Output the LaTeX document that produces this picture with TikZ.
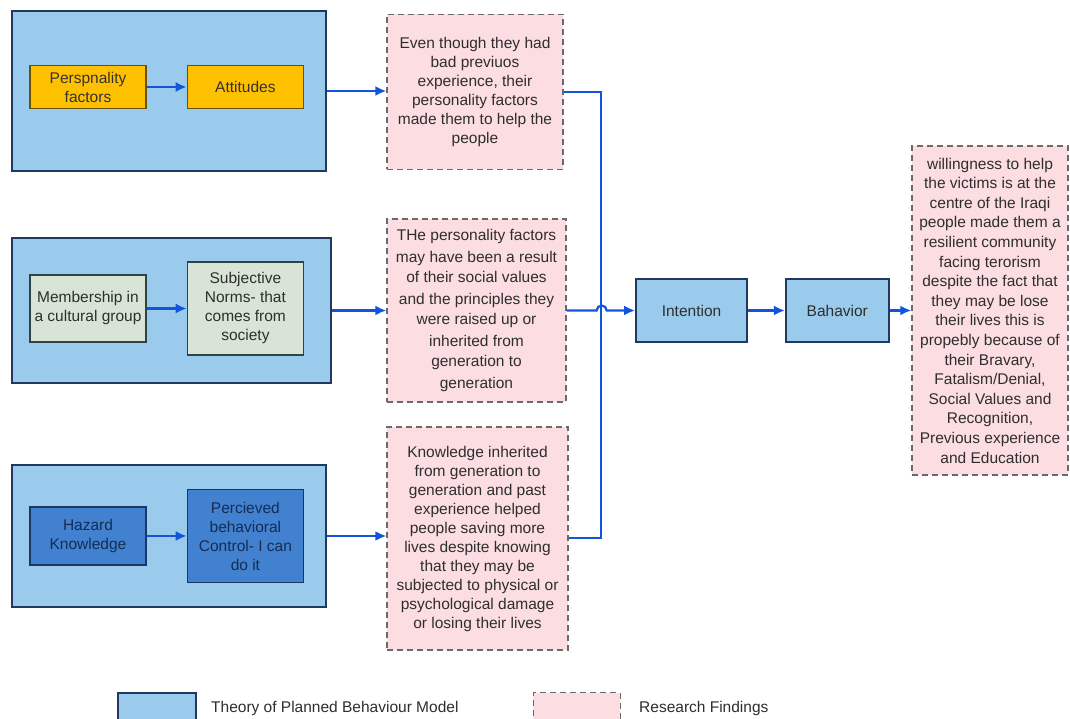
\documentclass[tikz,border=0pt]{standalone}
\usepackage{fontspec}
\setmainfont{Liberation Sans}
\usepackage{tikz}
\usetikzlibrary{arrows.meta,positioning}
\definecolor{tpbblue}{HTML}{9BCBEC}
\definecolor{tpbnavy}{HTML}{1F3A5E}
\definecolor{attorange}{HTML}{FFC000}
\definecolor{attborder}{HTML}{6B5200}
\definecolor{normgreen}{HTML}{D8E5D6}
\definecolor{normborder}{HTML}{2E4444}
\definecolor{ctrlblue}{HTML}{4181D0}
\definecolor{ctrlborder}{HTML}{1C3766}
\definecolor{findpink}{HTML}{FCDDE2}
\definecolor{findgray}{HTML}{6A6A6A}
\definecolor{linkblue}{HTML}{1254DA}
\definecolor{textgray}{HTML}{2E2E2E}

\begin{document}
\begin{tikzpicture}[x=1pt,y=1pt,
    every node/.style={font=\fontsize{15.5}{19}\selectfont,align=center,text=textgray,inner sep=2pt},
    tpb/.style={draw=tpbnavy,line width=2.2pt,fill=tpbblue},
    attbox/.style={draw=attborder,line width=1.4pt,fill=attorange,minimum width=116pt,text=black!80},
    normbox/.style={draw=normborder,line width=1.4pt,fill=normgreen,minimum width=116pt},
    ctrlbox/.style={draw=ctrlborder,line width=1.4pt,fill=ctrlblue,minimum width=116pt,text=ctrlborder!80!black},
    finding/.style={draw=findgray,dash pattern=on 6pt off 4pt,line width=1.3pt,fill=findpink},
    arr/.style={-{Latex[length=11pt,width=10pt]},draw=linkblue,line width=2.2pt},
    link/.style={draw=linkblue,line width=2pt}
]
\useasboundingbox (0,0) rectangle (1070,719);

\node[tpb,minimum width=314pt,minimum height=160pt] (tpbA) at (169,628) {};
\node[tpb,minimum width=319pt,minimum height=145pt] (tpbB) at (171.5,408.5) {};
\node[tpb,minimum width=314pt,minimum height=142pt] (tpbC) at (169,183) {};

\node[attbox,minimum height=43pt] (persp) at (88,632) {Perspnality\\factors};
\node[attbox,minimum height=43pt,right=40pt of persp] (attit) {Attitudes};
\node[normbox,minimum height=67pt] (member) at (88,410.5) {Membership in\\a cultural group};
\node[normbox,minimum height=93pt,right=40pt of member] (subj) {Subjective\\Norms- that\\comes from\\society};
\node[ctrlbox,minimum height=58pt] (hazard) at (88,183) {Hazard\\Knowledge};
\node[ctrlbox,minimum height=93pt,right=40pt of hazard] (percv) {Percieved\\behavioral\\Control- I can\\do it};

\node[finding,minimum width=176pt,minimum height=155pt] (findA) at (475,627) {Even though they had\\bad previuos\\experience, their\\personality factors\\made them to help the\\people};
\node[finding,minimum width=179pt,minimum height=183pt,font=\fontsize{15.5}{21}\selectfont] (findB) at (476.5,408.5) {THe personality factors\\may have been a result\\of their social values\\and the principles they\\were raised up or\\inherited from\\generation to\\generation};
\node[finding,minimum width=181pt,minimum height=223pt] (findC) at (477.5,180.5) {Knowledge inherited\\from generation to\\generation and past\\experience helped\\people saving more\\lives despite knowing\\that they may be\\subjected to physical or\\psychological damage\\or losing their lives};

\node[tpb,line width=1.8pt,minimum width=111pt,minimum height=63pt] (intent) at (691.5,408.5) {Intention};
\node[tpb,line width=1.8pt,minimum width=103pt,minimum height=63pt,right=37pt of intent] (behav) {Bahavior};
\node[finding,minimum width=156pt,minimum height=329pt,font=\fontsize{15.5}{19.6}\selectfont] (result) at (990,408.5) {willingness to help\\the victims is at the\\centre of the Iraqi\\people made them a\\resilient community\\facing terorism\\despite the fact that\\they may be lose\\their lives this is\\propebly because of\\their Bravary,\\Fatalism/Denial,\\Social Values and\\Recognition,\\Previous experience\\and Education};

\coordinate (spine) at (601,400);

\draw[arr] (persp) -- (attit);
\draw[arr] (member) -- (subj);
\draw[arr] (hazard) -- (percv);
\draw[arr] (tpbA.east) -- (tpbA.east -| findA.west);
\draw[arr] (tpbB.east) -- (findB.west);
\draw[arr] (tpbC.east) -- (tpbC.east -| findC.west);
\draw[link] (findA.east) -- (findA.east -| spine) |- (findC.east);
\draw[arr] (findB.east) -- ++(30,0) arc[start angle=180,end angle=0,radius=5pt] -- (intent.west);
\draw[arr] (intent) -- (behav);
\draw[arr] (behav) -- (result);

\node[tpb,line width=1.8pt,minimum width=78pt,minimum height=29pt] (legA) at (157,11.5) {};
\node[anchor=west] (legAtext) at (209,11) {Theory of Planned Behaviour Model};
\node[finding,line width=1pt,minimum width=87pt,minimum height=29pt] (legB) at (576.5,11.5) {};
\node[anchor=west] (legBtext) at (637,11) {Research Findings};
\end{tikzpicture}
\end{document}
